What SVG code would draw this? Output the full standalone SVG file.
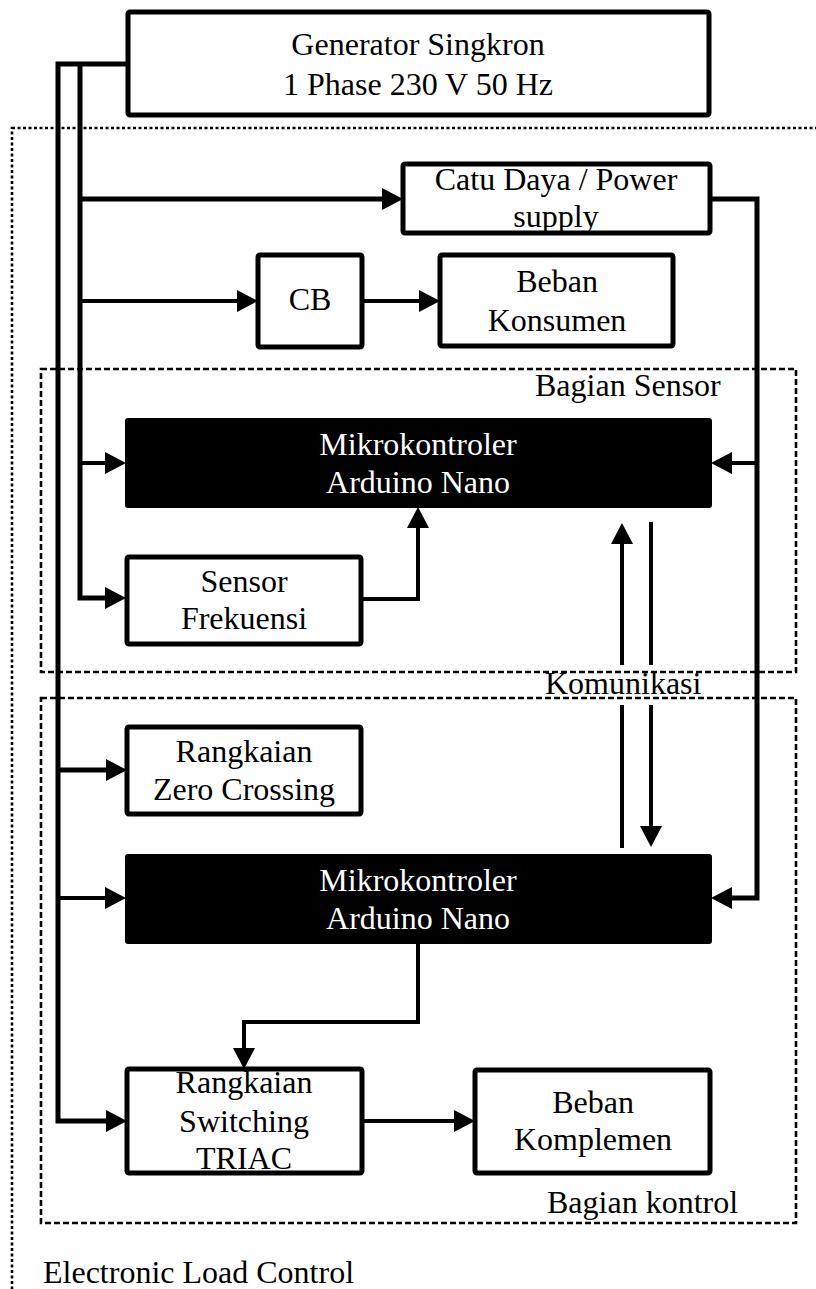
<svg xmlns="http://www.w3.org/2000/svg" width="816" height="1289" viewBox="0 0 816 1289">
<style>
.box{fill:#fff;stroke:#000;stroke-width:5;}
.blk{fill:#000;stroke:#000;stroke-width:2;}
.t{font-family:"Liberation Serif","Times New Roman",serif;font-size:32px;fill:#000;}
.w{fill:#fff;}
.c{text-anchor:middle;}
.ln{fill:none;stroke:#000;stroke-linejoin:miter;}
.dot{fill:none;stroke:#000;stroke-width:2.6;stroke-dasharray:3 2.5;}
.dash{fill:none;stroke:#000;stroke-width:2.6;stroke-dasharray:6 3;}
</style>
<defs>
<marker id="ah" markerUnits="userSpaceOnUse" markerWidth="21" markerHeight="22" refX="10" refY="11" orient="auto" viewBox="0 0 21 22">
<path d="M0,0 L21,11 L0,22 z" fill="#000"/>
</marker>
</defs>
<rect width="816" height="1289" fill="#fff"/>
<g id="frames">
<rect class="dot" x="12" y="128" width="830" height="1200"/>
<rect class="dash" x="41" y="369" width="755" height="303"/>
<rect class="dash" x="41" y="698" width="755" height="525"/>
</g>
<g id="connectors">
<polyline class="ln" stroke-width="5" points="128,64 58,64 58,1121 116,1121" marker-end="url(#ah)"/>
<polyline class="ln" stroke-width="5" points="80,64 80,598 115,598" marker-end="url(#ah)"/>
<line class="ln" stroke-width="5" x1="80" y1="199" x2="392" y2="199" marker-end="url(#ah)"/>
<line class="ln" stroke-width="4" x1="80" y1="301" x2="247" y2="301" marker-end="url(#ah)"/>
<line class="ln" stroke-width="4" x1="80" y1="463" x2="115" y2="463" marker-end="url(#ah)"/>
<line class="ln" stroke-width="5" x1="58" y1="770" x2="116" y2="770" marker-end="url(#ah)"/>
<line class="ln" stroke-width="4" x1="58" y1="898" x2="115" y2="898" marker-end="url(#ah)"/>
<line class="ln" stroke-width="4" x1="362" y1="301" x2="429" y2="301" marker-end="url(#ah)"/>
<polyline class="ln" stroke-width="5" points="710,199 757,199 757,898 722,898" marker-end="url(#ah)"/>
<line class="ln" stroke-width="4" x1="757" y1="463" x2="722" y2="463" marker-end="url(#ah)"/>
<polyline class="ln" stroke-width="4" points="361,599 418,599 418,518" marker-end="url(#ah)"/>
<line class="ln" stroke-width="4" x1="622" y1="848" x2="622" y2="705"/>
<line class="ln" stroke-width="4" x1="622" y1="665" x2="622" y2="534" marker-end="url(#ah)"/>
<line class="ln" stroke-width="4" x1="651" y1="522" x2="651" y2="665"/>
<line class="ln" stroke-width="4" x1="651" y1="705" x2="651" y2="836" marker-end="url(#ah)"/>
<polyline class="ln" stroke-width="4" points="418,943 418,1022 244,1022 244,1058" marker-end="url(#ah)"/>
<line class="ln" stroke-width="4" x1="362" y1="1121" x2="464" y2="1121" marker-end="url(#ah)"/>
</g>
<g id="generator">
<rect class="box" x="128" y="12" width="581" height="103" rx="2"/>
<text class="t c" x="418" y="55">Generator Singkron</text>
<text class="t c" x="418" y="95">1 Phase 230 V 50 Hz</text>
</g>
<g id="catu-daya">
<rect class="box" x="403" y="164" width="307" height="69" rx="2"/>
<text class="t c" x="556" y="190">Catu Daya / Power</text>
<text class="t c" x="556" y="227">supply</text>
</g>
<g id="cb">
<rect class="box" x="258" y="255" width="104" height="92" rx="2"/>
<text class="t c" x="310" y="310">CB</text>
</g>
<g id="beban-konsumen">
<rect class="box" x="440" y="255" width="233" height="91" rx="2"/>
<text class="t c" x="557" y="292">Beban</text>
<text class="t c" x="557" y="331">Konsumen</text>
</g>
<g id="mikro-sensor">
<rect class="blk" x="126" y="419" width="585" height="88" rx="2"/>
<text class="t c w" x="418" y="455">Mikrokontroler</text>
<text class="t c w" x="418" y="493">Arduino Nano</text>
</g>
<g id="sensor-frekuensi">
<rect class="box" x="127" y="557" width="234" height="87" rx="2"/>
<text class="t c" x="244" y="592">Sensor</text>
<text class="t c" x="244" y="629">Frekuensi</text>
</g>
<g id="zero-crossing">
<rect class="box" x="127" y="727" width="234" height="87" rx="2"/>
<text class="t c" x="244" y="762">Rangkaian</text>
<text class="t c" x="244" y="800">Zero Crossing</text>
</g>
<g id="mikro-kontrol">
<rect class="blk" x="126" y="855" width="585" height="88" rx="2"/>
<text class="t c w" x="418" y="891">Mikrokontroler</text>
<text class="t c w" x="418" y="929">Arduino Nano</text>
</g>
<g id="triac">
<rect class="box" x="127" y="1069" width="235" height="104" rx="2"/>
<text class="t c" x="244" y="1093">Rangkaian</text>
<text class="t c" x="244" y="1132">Switching</text>
<text class="t c" x="244" y="1169">TRIAC</text>
</g>
<g id="beban-komplemen">
<rect class="box" x="475" y="1070" width="235" height="103" rx="2"/>
<text class="t c" x="593" y="1113">Beban</text>
<text class="t c" x="593" y="1150">Komplemen</text>
</g>
<g id="labels">
<text class="t" x="535" y="396">Bagian Sensor</text>
<text class="t" x="545" y="694">Komunikasi</text>
<text class="t" x="547" y="1213">Bagian kontrol</text>
<text class="t" x="43" y="1283">Electronic Load Control</text>
</g>
</svg>
